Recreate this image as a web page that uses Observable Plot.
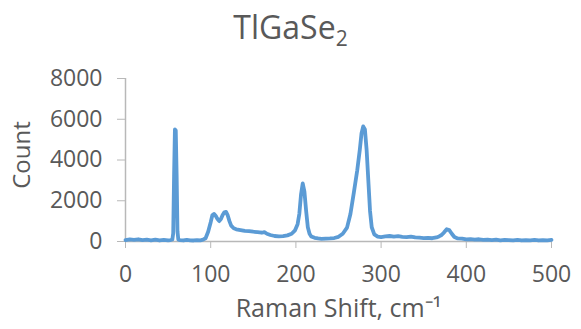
<!DOCTYPE html>
<html>
<head>
<meta charset="utf-8">
<script src="https://cdn.jsdelivr.net/npm/d3@7"></script>
<script src="https://cdn.jsdelivr.net/npm/@observablehq/plot@0.6"></script>
<style>
  html, body { margin: 0; padding: 0; background: #fff; }
  #wrap { width: 581px; height: 329px; position: relative; overflow: hidden; font-family: "Open Sans", sans-serif; color: #595959; }
  #title { height: 60px; text-align: center; font-size: 32px; line-height: 1; padding-top: 11px; box-sizing: border-box; padding-left: 0px; }
  #title sub { font-size: 21px; vertical-align: -7px; line-height: 0; }
</style>
</head>
<body>
<div id="wrap">
  <div id="title">TlGaSe<sub>2</sub></div>
  <div id="chart"></div>
</div>
<script>
const shift = [0,5,10,15,20,25,30,35,40,45,50,53,55,56,57,58,59,60,61,62,64,68,72,76,80,84,88,91,94,97,100,102,104,106,108,110,112,114,116,118,120,122,124,127,130,135,140,145,150,155,160,163,166,170,175,180,185,190,195,199,202,204,206,208,210,212,214,216,218,222,226,230,235,240,245,250,255,260,264,268,272,275,277,279,281,283,285,287,289,292,296,300,305,310,315,320,325,330,335,340,345,350,355,360,365,368,371,374,377,380,383,386,390,395,400,405,410,415,420,425,430,435,440,445,450,455,460,465,470,475,480,485,490,495,500];
const count = [70,100,80,110,70,90,60,90,50,80,60,70,100,400,3200,5500,5450,3300,500,90,70,50,80,60,50,70,60,90,160,480,950,1300,1350,1250,1100,1000,1100,1300,1430,1450,1280,1000,780,650,600,560,520,510,480,460,430,460,380,320,270,250,260,300,380,550,850,1350,2300,2850,2450,1500,700,380,250,180,150,130,140,150,170,230,380,680,1350,2400,3500,4500,5300,5650,5500,4500,3000,1500,700,350,240,220,250,270,240,260,230,210,240,200,190,170,180,160,200,250,320,450,600,560,380,220,150,140,100,120,90,110,80,90,70,90,60,80,70,60,80,50,70,60,80,50,70,60,80];
const xTicks = [0,100,200,300,400,500];
const yTicks = [0,2000,4000,6000,8000];
const xLabel = "Raman Shift, cm⁻¹";
const yLabel = "Count";

const data = shift.map((x, i) => ({x, y: count[i]}));

const plot = Plot.plot({
  width: 581,
  height: 269,
  marginLeft: 125,
  marginRight: 30,
  marginTop: 18,
  marginBottom: 88,
  style: {fontFamily: "Open Sans, sans-serif", fontSize: "23px", color: "#595959", background: "transparent"},
  x: {domain: [0, 500]},
  y: {domain: [0, 8000]},
  marks: [
    Plot.ruleX([0], {y1: 0, y2: 8000, stroke: "#b8b8b8", strokeWidth: 1.5}),
    Plot.ruleY([0], {x1: 0, x2: 500, stroke: "#b8b8b8", strokeWidth: 1.5}),
    Plot.axisX({ticks: xTicks, tickFormat: d => String(d), tickSize: 7, tickPadding: 17, stroke: "#b8b8b8", fill: "#595959", label: null}),
    Plot.axisY({ticks: yTicks, tickFormat: d => String(d), tickSize: 8, tickPadding: 15, stroke: "#b8b8b8", fill: "#595959", label: null}),
    Plot.text([xLabel], {frameAnchor: "bottom", dy: 75, fontSize: 25, fill: "#595959"}),
    Plot.text([yLabel], {frameAnchor: "left", textAnchor: "middle", dx: -103, dy: -5, rotate: -90, fontSize: 24, fill: "#595959"}),
    Plot.line(data, {x: "x", y: "y", stroke: "#5b9bd5", strokeWidth: 3.8, strokeLinejoin: "round", curve: "linear"})
  ]
});
document.getElementById("chart").appendChild(plot);
</script>
</body>
</html>
